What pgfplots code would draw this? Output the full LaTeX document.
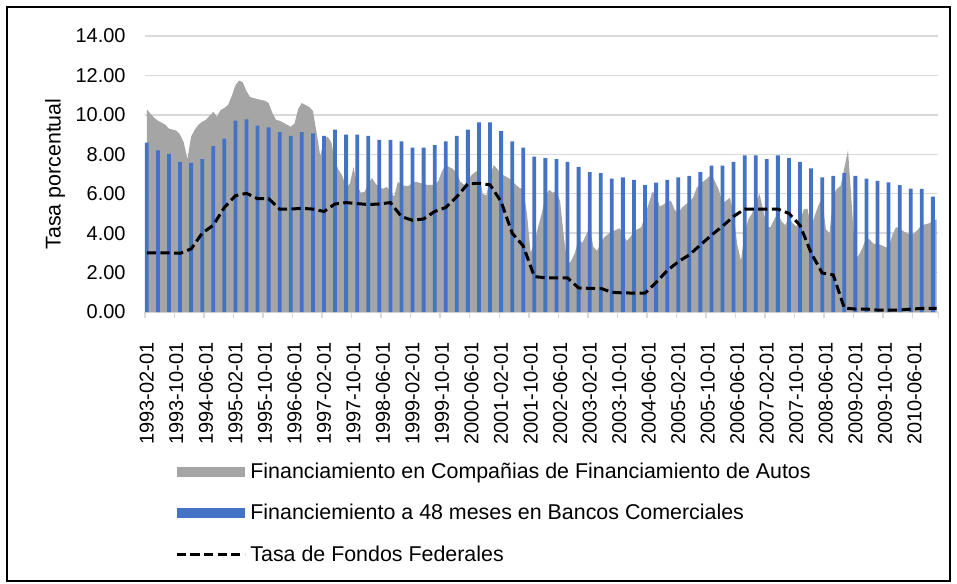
\documentclass[border=0pt]{standalone}
\usepackage{fontspec}
\setmainfont{Liberation Sans}
\usepackage{pgfplots}
\pgfplotsset{compat=1.18}
\usepackage{pgfplotstable}

\definecolor{autogray}{HTML}{A5A5A5}
\definecolor{bankblue}{HTML}{4472C4}
\definecolor{gridgray}{HTML}{D9D9D9}

% monthly, index 0 = 1993-02
\pgfplotstableread{
i rate
0 10.28
1 10.05
2 9.85
3 9.70
4 9.60
5 9.50
6 9.30
7 9.25
8 9.20
9 9.00
10 8.60
11 7.75
12 8.90
13 9.25
14 9.50
15 9.65
16 9.75
17 9.95
18 10.15
19 9.90
20 10.25
21 10.35
22 10.50
23 10.95
24 11.50
25 11.74
26 11.65
27 11.20
28 10.90
29 10.85
30 10.80
31 10.75
32 10.72
33 10.60
34 10.10
35 9.75
36 9.70
37 9.60
38 9.50
39 9.40
40 9.55
41 10.30
42 10.60
43 10.50
44 10.40
45 10.20
46 9.10
47 7.90
48 8.75
49 8.90
50 8.60
51 7.60
52 7.20
53 6.90
54 6.30
55 6.50
56 7.35
57 6.40
58 6.05
59 6.10
60 6.50
61 6.80
62 6.50
63 6.35
64 6.25
65 6.35
66 6.10
67 5.85
68 6.60
69 6.45
70 6.40
71 6.40
72 6.55
73 6.60
74 6.55
75 6.50
76 6.45
77 6.45
78 6.45
79 6.65
80 7.15
81 7.45
82 7.35
83 7.25
84 7.00
85 6.60
86 6.45
87 6.65
88 6.95
89 7.10
90 7.20
91 6.00
92 5.90
93 6.90
94 7.45
95 7.25
96 7.00
97 6.90
98 6.80
99 6.65
100 6.45
101 6.30
102 6.20
103 5.00
104 3.00
105 3.50
106 4.30
107 5.00
108 5.85
109 6.20
110 6.05
111 6.15
112 5.60
113 3.80
114 2.40
115 2.60
116 3.00
117 3.70
118 3.50
119 3.90
120 4.30
121 3.30
122 3.10
123 3.50
124 3.80
125 3.95
126 4.10
127 4.15
128 4.25
129 4.05
130 3.60
131 3.80
132 4.10
133 4.20
134 4.30
135 4.90
136 5.50
137 6.10
138 5.95
139 5.35
140 5.45
141 5.60
142 5.65
143 5.20
144 5.00
145 5.30
146 5.45
147 5.60
148 5.80
149 6.30
150 6.50
151 6.65
152 6.80
153 7.00
154 6.60
155 6.20
156 5.50
157 5.65
158 5.80
159 5.00
160 3.40
161 2.60
162 4.00
163 4.70
164 5.00
165 5.50
166 6.00
167 5.20
168 4.30
169 4.30
170 4.70
171 5.00
172 4.60
173 4.40
174 4.80
175 4.50
176 4.35
177 4.60
178 5.20
179 5.25
180 4.30
181 4.90
182 5.40
183 5.80
184 4.20
185 4.00
186 5.90
187 6.25
188 6.40
189 7.30
190 8.20
191 5.50
192 2.70
193 2.90
194 3.30
195 3.80
196 3.65
197 3.45
198 3.45
199 3.40
200 3.30
201 3.25
202 3.90
203 4.30
204 4.25
205 4.10
206 4.00
207 3.90
208 4.00
209 4.20
210 4.40
211 4.45
212 4.50
213 4.60
214 4.70
}\autos

% quarterly (Feb, May, Aug, Nov)
\pgfplotstableread{
i rate
0 8.59
3 8.20
6 8.02
9 7.61
12 7.56
15 7.75
18 8.41
21 8.79
24 9.71
27 9.77
30 9.45
33 9.37
36 9.12
39 8.93
42 9.12
45 9.06
48 8.93
51 9.25
54 9.00
57 9.00
60 8.93
63 8.73
66 8.73
69 8.66
72 8.34
75 8.34
78 8.47
81 8.66
84 8.93
87 9.25
90 9.62
93 9.62
96 9.18
99 8.66
102 8.34
105 7.88
108 7.81
111 7.75
114 7.61
117 7.36
120 7.10
123 7.04
126 6.77
129 6.83
132 6.70
135 6.44
138 6.56
141 6.70
144 6.83
147 6.90
150 7.10
153 7.42
156 7.42
159 7.61
162 7.95
165 7.95
168 7.75
171 7.95
174 7.81
177 7.61
180 7.29
183 6.83
186 6.90
189 7.04
192 6.90
195 6.77
198 6.65
201 6.58
204 6.44
207 6.26
210 6.24
213 5.85
}\banks

\pgfplotstableread{
i rate
0 3.00
3 3.00
6 3.00
9 2.98
12 3.20
15 4.00
18 4.40
21 5.30
24 5.90
27 6.02
30 5.75
33 5.75
36 5.22
39 5.22
42 5.26
45 5.22
48 5.10
51 5.48
54 5.55
57 5.50
60 5.45
63 5.48
66 5.55
69 4.84
72 4.65
75 4.72
78 5.10
81 5.30
84 5.85
87 6.50
90 6.53
93 6.45
96 5.60
99 4.00
102 3.35
105 1.80
108 1.73
111 1.73
114 1.73
117 1.22
120 1.20
123 1.20
126 1.00
129 0.97
132 0.96
135 0.96
138 1.50
141 2.10
144 2.55
147 2.90
150 3.40
153 3.90
156 4.35
159 4.85
162 5.22
165 5.22
168 5.22
171 5.22
174 5.00
177 4.40
180 3.00
183 1.98
186 1.88
189 0.20
192 0.15
195 0.15
198 0.10
201 0.10
204 0.10
207 0.15
210 0.18
213 0.18
214 0.18
}\fed

\begin{document}
\begin{tikzpicture}
\begin{axis}[
  scale only axis, width=396.7pt, height=138pt,
  xmin=-0.5, xmax=214.5, ymin=0, ymax=14,
  clip=false,
  axis line style={draw=none},
  tick pos=left,
  ymajorgrids, grid style={gridgray, line width=0.75pt},
  major tick length=0pt,
  ytick={0,2,...,14},
  yticklabel style={/pgf/number format/fixed, /pgf/number format/fixed zerofill,
    /pgf/number format/precision=2, /pgf/number format/assume math mode=true,
    inner sep=0pt},
  yticklabel shift=9.5pt,
  xtick={0,8,...,208},
  xticklabels={1993-02-01,1993-10-01,1994-06-01,1995-02-01,1995-10-01,1996-06-01,
    1997-02-01,1997-10-01,1998-06-01,1999-02-01,1999-10-01,2000-06-01,2001-02-01,
    2001-10-01,2002-06-01,2003-02-01,2003-10-01,2004-06-01,2005-02-01,2005-10-01,
    2006-06-01,2007-02-01,2007-10-01,2008-06-01,2009-02-01,2009-10-01,2010-06-01},
  xticklabel style={yshift=-6pt, rotate=90, anchor=east, inner sep=0pt},
  xticklabel shift=9pt,
  extra x ticks={-0.5,7.5,...,207.5,214.5},
  extra x tick labels={},
  extra x tick style={major tick length=3pt, tick align=outside,
    tick style={gridgray, line width=0.75pt}, grid=none},
  tick label style={font=\fontsize{10}{12}\selectfont, text=black},
  ylabel={Tasa porcentual},
  ylabel style={at={(axis description cs:-0.1134,0.5)}, anchor=center,
    font=\fontsize{10.7}{12.8}\selectfont},
  legend cell align=left,
  legend style={draw=none, fill=none, at={(axis description cs:0.0378,-0.53)},
    anchor=north west, inner sep=0pt, row sep=7.5pt,
    font=\fontsize{10.7}{12.8}\selectfont},
]
\addplot[fill=autogray, draw=none,
  legend image code/.code={\fill[autogray] (0pt,-2.5pt) rectangle (34pt,2.5pt);}]
  table[x=i, y=rate] {\autos} \closedcycle;
\addlegendentry{Financiamiento en Compañias de Financiamiento de Autos}

\addplot[ybar, bar width=1.9pt, fill=bankblue, draw=none,
  legend image code/.code={\fill[bankblue] (0pt,-2.5pt) rectangle (34pt,2.5pt);}]
  table[x=i, y=rate] {\banks};
\addlegendentry{Financiemiento a 48 meses en Bancos Comerciales}

\addplot[black, line width=1.5pt, dash pattern=on 4.6pt off 2.2pt,
  legend image code/.code={\draw[black, line width=1.5pt, dash pattern=on 4.6pt off 2.2pt] (0pt,0pt) -- (34pt,0pt);}]
  table[x=i, y=rate] {\fed};
\addlegendentry{Tasa de Fondos Federales}

\draw[black, line width=1pt] (axis description cs:-0.1739,-0.9746) rectangle (axis description cs:1.0146,1.105);
\path (axis description cs:-0.18276,-0.98188) rectangle (axis description cs:1.02344,1.13043);
\end{axis}
\end{tikzpicture}
\end{document}
